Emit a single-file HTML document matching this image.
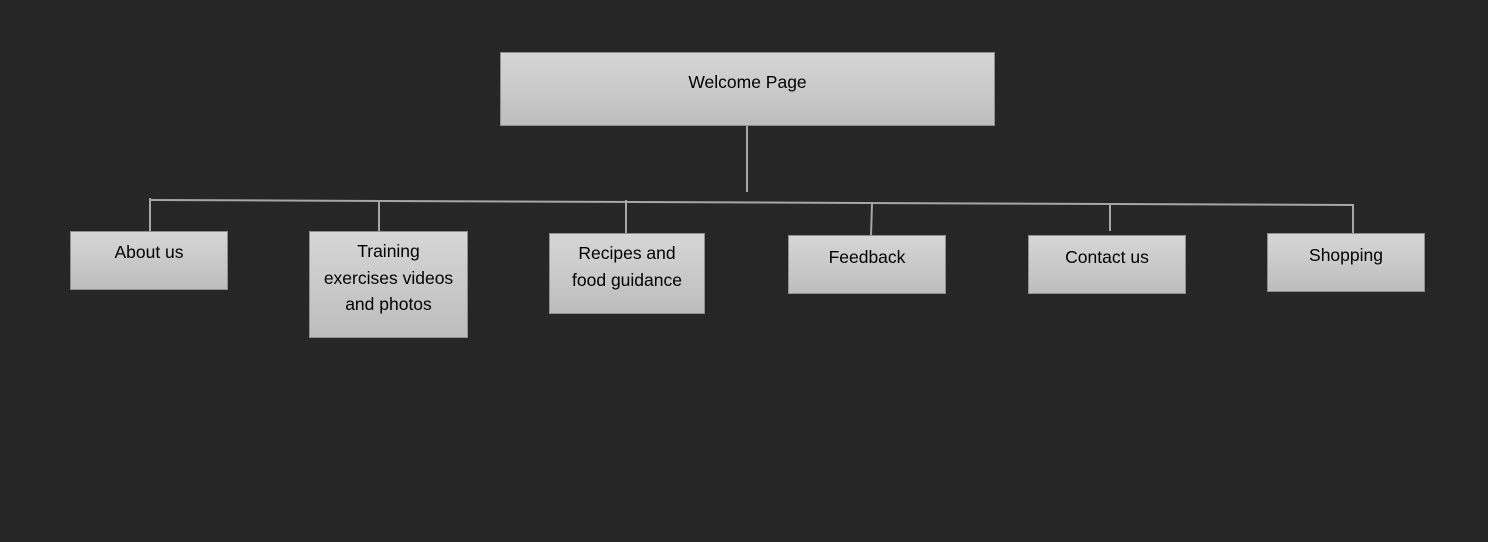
<!DOCTYPE html>
<html><head><style>
html,body{margin:0;padding:0;}
body{width:1488px;height:542px;background:#262626;position:relative;overflow:hidden;font-family:"Liberation Sans",sans-serif;}
.b{position:absolute;box-sizing:border-box;border:1px solid #8f8f8f;background:linear-gradient(#d6d6d6,#bdbdbd);color:#000;font-size:17.5px;text-align:center;line-height:26.5px;padding-top:7px;white-space:nowrap;}
svg{position:absolute;left:0;top:0;}
</style></head><body>
<svg width="1488" height="542">
<g stroke="#a6a6a6" stroke-width="2" fill="none">
<line x1="747" y1="126" x2="747" y2="192"/>
<line x1="150" y1="200" x2="1354" y2="205"/>
<line x1="150" y1="198" x2="150" y2="231"/>
<line x1="379" y1="202" x2="379" y2="231"/>
<line x1="626" y1="200" x2="626" y2="233"/>
<line x1="872" y1="204" x2="871" y2="235"/>
<line x1="1110" y1="205" x2="1110" y2="231"/>
<line x1="1353" y1="205" x2="1353" y2="233"/>
</g>
</svg>
<div class="b" style="left:500px;top:52px;width:495px;height:74px;padding-top:16px;">Welcome Page</div>
<div class="b" style="left:70px;top:231px;width:158px;height:59px;padding-top:7px;">About us</div>
<div class="b" style="left:309px;top:231px;width:159px;height:107px;padding-top:6px;">Training<br>exercises videos<br>and photos</div>
<div class="b" style="left:549px;top:233px;width:156px;height:81px;padding-top:6px;">Recipes and<br>food guidance</div>
<div class="b" style="left:788px;top:235px;width:158px;height:59px;padding-top:8px;">Feedback</div>
<div class="b" style="left:1028px;top:235px;width:158px;height:59px;padding-top:8px;">Contact us</div>
<div class="b" style="left:1267px;top:233px;width:158px;height:59px;padding-top:8px;">Shopping</div>
</body></html>
